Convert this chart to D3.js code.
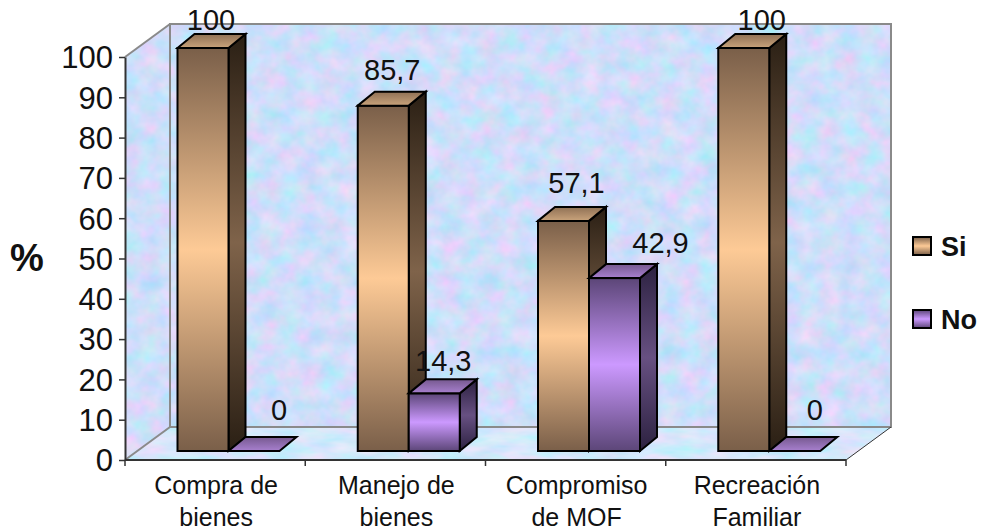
<!DOCTYPE html>
<html>
<head>
<meta charset="utf-8">
<script src="https://cdnjs.cloudflare.com/ajax/libs/d3/7.8.5/d3.min.js"></script>
<style>
  html, body { margin: 0; padding: 0; background: #fff; overflow: hidden; }
  svg { display: block; }
  text { font-family: "Liberation Sans", Arial, sans-serif; fill: #111; }
</style>
</head>
<body>
<svg id="chart" width="981" height="531"></svg>
<script>
// Chart values
const categories = [["Compra de", "bienes"], ["Manejo de", "bienes"], ["Compromiso", "de MOF"], ["Recreación", "Familiar"]];
const seriesNames = ["Si", "No"];
const siValues = [100, 85.7, 57.1, 100];
const noValues = [0, 14.3, 42.9, 0];
const yTicks = [0, 10, 20, 30, 40, 50, 60, 70, 80, 90, 100];

// Chart box: front plane, and how far the back wall sits behind it
const plot = { left: 125, right: 846, top: 57, bottom: 460 };
const wallDepth = { x: 45, y: -33 };
const barPlane = { x: 12, y: -9 };
const barDepth = { x: 17, y: -14 };
const bandInset = 40.5;
const barRun = 102;

// Value label nudges from the top back edge of each bar: [si, no] per category
const siLabelShift = [[8, -4], [9, -12], [13, -14], [18, -4]];
const noLabelShift = [[25, -17], [9, -8], [46, -11], [20, -17]];

const svg = d3.select("#chart");
const defs = svg.append("defs");

const y = d3.scaleLinear().domain([0, 100]).range([plot.bottom, plot.top]);
const x = d3.scaleBand().domain(categories.map(c => c.join(" "))).range([plot.left, plot.right]);
const inner = d3.scaleBand().domain(seriesNames).range([0, barRun]);

// Mottled blue and lilac texture for the walls and floor
function mottled(id, freq, seed, rows) {
  const f = defs.append("filter").attr("id", id)
    .attr("x", 0).attr("y", 0).attr("width", 1).attr("height", 1)
    .attr("color-interpolation-filters", "sRGB");
  f.append("feTurbulence").attr("type", "fractalNoise")
    .attr("baseFrequency", freq).attr("numOctaves", 3).attr("seed", seed).attr("result", "n");
  f.append("feColorMatrix").attr("in", "n").attr("type", "matrix").attr("values", rows).attr("result", "c");
  f.append("feComposite").attr("in", "c").attr("in2", "SourceGraphic").attr("operator", "in");
}
mottled("wallTexture", "0.05 0.055", 7,
  "0.36 0 0 0 0.63  -0.1 0.12 0 0 0.86  0 0 0.08 0 0.94  0 0 0 0 1");
mottled("floorTexture", "0.03 0.09", 11,
  "0.32 0 0 0 0.67  -0.06 0.1 0 0 0.89  0 0 0.05 0 0.96  0 0 0 0 1");

// Three stop gradient, dark at both ends of a bar and light at its middle
function barGradient(id, dark, light) {
  const g = defs.append("linearGradient").attr("id", id).attr("x1", 0).attr("y1", 0).attr("x2", 0).attr("y2", 1);
  g.append("stop").attr("offset", "0%").attr("stop-color", dark);
  g.append("stop").attr("offset", "50%").attr("stop-color", light);
  g.append("stop").attr("offset", "100%").attr("stop-color", dark);
}
function capGradient(id, back, front) {
  const g = defs.append("linearGradient").attr("id", id).attr("x1", 0).attr("y1", 0).attr("x2", 0).attr("y2", 1);
  g.append("stop").attr("offset", "0%").attr("stop-color", back);
  g.append("stop").attr("offset", "100%").attr("stop-color", front);
}
barGradient("siFront", "#7a5f49", "#fdca96");
barGradient("siSide", "#2a1f14", "#7f634a");
capGradient("siCap", "#8f7055", "#c9a37b");
barGradient("noFront", "#5c4678", "#cc99ff");
barGradient("noSide", "#2c2140", "#675082");
capGradient("noCap", "#76598f", "#a880cf");

// Walls and floor
const pts = a => a.map(p => p.join(",")).join(" ");
const bx0 = plot.left + wallDepth.x, bx1 = plot.right + wallDepth.x;
const by0 = plot.top + wallDepth.y, by1 = plot.bottom + wallDepth.y;
const floorPts = [[plot.left, plot.bottom], [bx0, by1], [bx1, by1], [plot.right, plot.bottom]];
const leftPts = [[plot.left, plot.top], [bx0, by0], [bx0, by1], [plot.left, plot.bottom]];
const backPts = [[bx0, by0], [bx1, by0], [bx1, by1], [bx0, by1]];

svg.append("polygon").attr("points", pts(backPts)).attr("filter", "url(#wallTexture)");
svg.append("polygon").attr("points", pts(leftPts)).attr("filter", "url(#wallTexture)");
svg.append("polygon").attr("points", pts(floorPts)).attr("filter", "url(#floorTexture)");

const edge = svg.append("g").attr("fill", "none").attr("stroke", "#8a8a8a").attr("stroke-width", 2);
edge.append("polygon").attr("points", pts(backPts));
edge.append("line").attr("x1", plot.left).attr("y1", plot.top).attr("x2", bx0).attr("y2", by0);
edge.append("line").attr("x1", plot.left).attr("y1", plot.bottom).attr("x2", bx0).attr("y2", by1);
svg.append("line").attr("x1", plot.right).attr("y1", plot.bottom).attr("x2", bx1).attr("y2", by1)
  .attr("stroke", "#333").attr("stroke-width", 1);

// One 3D bar: side and cap first, then the front face
function drawBar(g, x0, w, value, key) {
  const yBase = y(0) + barPlane.y, yTop = y(value) + barPlane.y;
  const dx = barDepth.x, dy = barDepth.y;
  const style = s => s.attr("stroke", "#000").attr("stroke-width", 2).attr("stroke-linejoin", "miter");
  if (value > 0) {
    style(g.append("polygon")
      .attr("points", pts([[x0 + w, yTop], [x0 + w + dx, yTop + dy], [x0 + w + dx, yBase + dy], [x0 + w, yBase]]))
      .attr("fill", `url(#${key}Side)`));
    style(g.append("rect").attr("x", x0).attr("y", yTop).attr("width", w).attr("height", yBase - yTop)
      .attr("fill", `url(#${key}Front)`));
  }
  style(g.append("polygon")
    .attr("points", pts([[x0, yTop], [x0 + dx, yTop + dy], [x0 + w + dx, yTop + dy], [x0 + w, yTop]]))
    .attr("fill", `url(#${key}Cap)`));
}

const barsLayer = svg.append("g");
const labelsLayer = svg.append("g").attr("font-size", 29).attr("text-anchor", "middle");
x.domain().forEach((name, i) => {
  const start = x(name) + barPlane.x + bandInset;
  [["si", "Si", siValues[i], siLabelShift[i]], ["no", "No", noValues[i], noLabelShift[i]]].forEach(([key, s, v, shift]) => {
    const x0 = start + inner(s);
    drawBar(barsLayer, x0, inner.bandwidth(), v, key);
    labelsLayer.append("text")
      .attr("x", x0 + inner.bandwidth() / 2 + shift[0])
      .attr("y", y(v) + barPlane.y + barDepth.y + shift[1])
      .text(String(v).replace(".", ","));
  });
});

// Value axis
const yAxis = svg.append("g").attr("transform", `translate(${plot.left},0)`)
  .call(d3.axisLeft(y).tickValues(yTicks).tickSize(6).tickPadding(6).tickSizeOuter(0));
yAxis.selectAll("text").attr("font-size", 31).attr("font-family", "Liberation Sans, Arial, sans-serif").attr("fill", "#111").attr("dy", "0.35em");
yAxis.selectAll("line").attr("stroke", "#333").attr("stroke-width", 1.5);
yAxis.select(".domain").attr("stroke", "#333").attr("stroke-width", 2);

// Category axis: ticks fall on the band boundaries
const xEdges = x.domain().map(d => x(d)).concat(plot.right);
const xAxisG = svg.append("g");
xAxisG.append("line").attr("x1", plot.left).attr("x2", plot.right).attr("y1", plot.bottom).attr("y2", plot.bottom)
  .attr("stroke", "#333").attr("stroke-width", 2);
xAxisG.selectAll("line.tick").data(xEdges).join("line").attr("class", "tick")
  .attr("x1", d => d).attr("x2", d => d).attr("y1", plot.bottom).attr("y2", plot.bottom + 6)
  .attr("stroke", "#333").attr("stroke-width", 1.5);

const catLabels = svg.append("g").attr("font-size", 25).attr("text-anchor", "middle");
categories.forEach(c => {
  const cx = x(c.join(" ")) + x.bandwidth() / 2 + 1;
  c.forEach((line, j) => {
    catLabels.append("text").attr("x", cx).attr("y", 494 + j * 32).text(line);
  });
});

// Unit label
svg.append("text").attr("x", 27).attr("y", 271).attr("text-anchor", "middle")
  .attr("font-size", 38).attr("font-weight", "bold").text("%");

// Legend
const legendColor = d3.scaleOrdinal().domain(seriesNames).range(["si", "no"]);
const legendY = d3.scalePoint().domain(seriesNames).range([246, 319]);
seriesNames.forEach(s => {
  const g = svg.append("g").attr("transform", `translate(0,${legendY(s)})`);
  g.append("rect").attr("x", 913).attr("y", -9).attr("width", 18).attr("height", 18)
    .attr("fill", `url(#${legendColor(s)}Front)`).attr("stroke", "#000").attr("stroke-width", 2);
  g.append("text").attr("x", 941).attr("y", 10).attr("font-size", 27).attr("font-weight", "bold").text(s);
});
</script>
</body>
</html>
